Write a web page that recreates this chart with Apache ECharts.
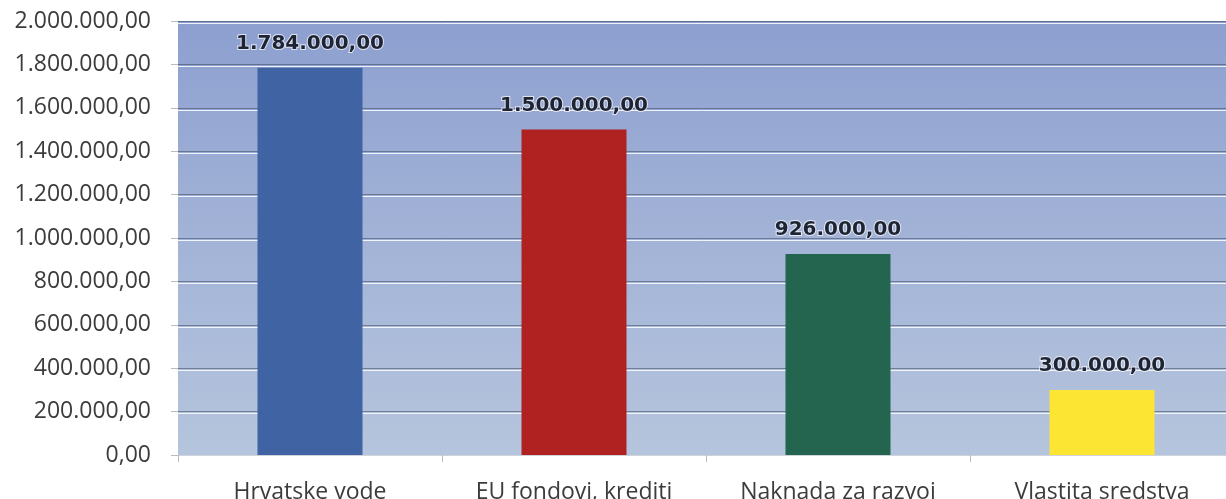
<!DOCTYPE html>
<html>
<head>
<meta charset="utf-8">
<script src="https://cdn.jsdelivr.net/npm/echarts@6/dist/echarts.min.js"></script>
<style>
  html, body { margin: 0; padding: 0; background: #fff; }
  #chart { width: 1226px; height: 499px; }
</style>
</head>
<body>
<div id="chart"></div>
<script>
// podaci s grafa
var categories = ['Hrvatske vode', 'EU fondovi, krediti', 'Naknada za razvoj', 'Vlastita sredstva'];
var values = [1784000, 1500000, 926000, 300000];
var barColors = ['#3f63a3', '#b02222', '#23654f', '#fde533'];
var yMin = 0;
var yMax = 2000000;
var yStep = 200000;

// 1.784.000,00
function fmt(v) {
    var parts = Number(v).toFixed(2).split('.');
    var intPart = parts[0].replace(/\B(?=(\d{3})+(?!\d))/g, '.');
    return intPart + ',' + parts[1];
}

var chart = echarts.init(document.getElementById('chart'));
var font = '"Open Sans", "Noto Sans", sans-serif';

chart.setOption({
    animation: false,
    grid: [
        {
            left: 178, top: 21, width: 1056, height: 434,
            outerBoundsMode: 'none',
            show: true,
            borderWidth: 0,
            backgroundColor: {
                type: 'linear', x: 0, y: 0, x2: 0, y2: 1,
                colorStops: [
                    { offset: 0, color: '#8c9fcf' },
                    { offset: 0.5, color: '#a3b3d7' },
                    { offset: 1, color: '#b5c5dd' }
                ]
            }
        },
        // bijele linije odmah ispod tamnih (3D efekt)
        { left: 178, top: 23, width: 1056, height: 434, outerBoundsMode: 'none' }
    ],
    xAxis: [
        {
            type: 'category',
            gridIndex: 0,
            data: categories,
            axisLine: { show: true, lineStyle: { color: '#d0d4da', width: 1 } },
            axisTick: { show: true, length: 7, lineStyle: { color: '#b8bcc4' } },
            axisLabel: { color: '#3c3c3c', fontSize: 23, fontFamily: font, margin: 26 }
        },
        {
            type: 'category',
            gridIndex: 1,
            data: categories,
            show: false
        }
    ],
    yAxis: [
        {
            type: 'value',
            gridIndex: 0,
            min: yMin, max: yMax, interval: yStep,
            axisLine: { show: false },
            axisTick: { show: true, length: 7, lineStyle: { color: '#b8bcc4' } },
            axisLabel: {
                color: '#3c3c3c', fontSize: 23, fontFamily: font, margin: 27,
                formatter: function (v) { return fmt(v); }
            },
            splitLine: { show: true, lineStyle: { color: 'rgba(60,72,95,0.55)', width: 1 } }
        },
        {
            type: 'value',
            gridIndex: 1,
            min: yMin, max: yMax, interval: yStep,
            axisLine: { show: false },
            axisTick: { show: false },
            axisLabel: { show: false },
            splitLine: { show: true, lineStyle: { color: 'rgba(255,255,255,0.85)', width: 1 } }
        }
    ],
    series: [
        {
            type: 'bar',
            xAxisIndex: 0,
            yAxisIndex: 0,
            barWidth: 105,
            z: 5,
            data: values.map(function (v, i) {
                return { value: v, itemStyle: { color: barColors[i] } };
            }),
            label: {
                show: true,
                position: 'top',
                distance: 14,
                color: '#1e2433',
                fontSize: 20,
                fontWeight: 'bold',
                fontFamily: '"DejaVu Sans", sans-serif',
                textBorderColor: 'rgba(255,255,255,0.7)',
                textBorderWidth: 2,
                formatter: function (p) { return fmt(p.value); }
            }
        }
    ]
});
</script>
</body>
</html>
